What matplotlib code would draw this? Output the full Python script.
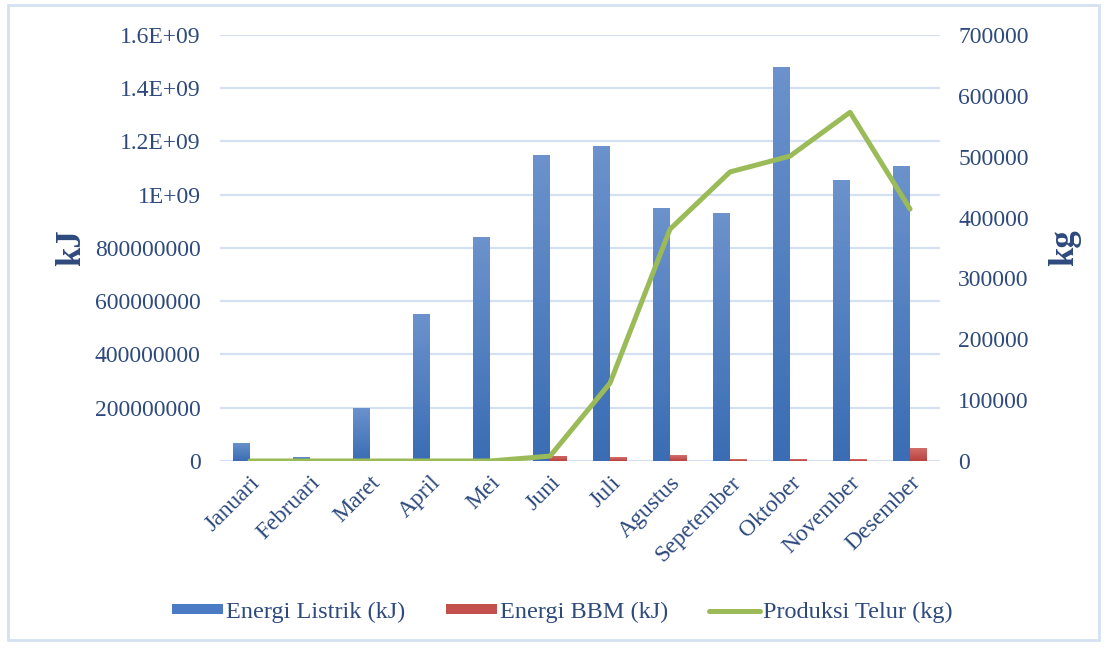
import numpy as np
import matplotlib.pyplot as plt
from matplotlib.patches import Rectangle, Patch
from matplotlib.lines import Line2D
from matplotlib.colors import LinearSegmentedColormap

bulan = ['Januari', 'Februari', 'Maret', 'April', 'Mei', 'Juni', 'Juli',
         'Agustus', 'Sepetember', 'Oktober', 'November', 'Desember']
listrik = [6.8e7, 1.6e7, 2.0e8, 5.52e8, 8.41e8, 1.149e9, 1.183e9,
           9.5e8, 9.31e8, 1.48e9, 1.055e9, 1.108e9]
bbm = [0, 0, 0, 0, 0, 1.9e7, 1.5e7, 2.2e7, 7e6, 7e6, 7e6, 4.9e7]
telur = [0, 0, 0, 0, 0, 8000, 128000, 381000, 475000, 501000, 573000, 414000]

kiri_ticks = [0, 2e8, 4e8, 6e8, 8e8, 1e9, 1.2e9, 1.4e9, 1.6e9]
kiri_label = ['0', '200000000', '400000000', '600000000', '800000000',
              '1E+09', '1.2E+09', '1.4E+09', '1.6E+09']
kanan_ticks = [0, 100000, 200000, 300000, 400000, 500000, 600000, 700000]

teks = '#2E4A7D'
fs = 17
plt.rcParams['font.family'] = ['Liberation Serif', 'DejaVu Serif']

fig = plt.figure(figsize=(11.07, 6.48), dpi=100)
ax = fig.add_axes([0.1987, 0.2886, 0.6505, 0.6574])
ax2 = ax.twinx()

x = np.arange(len(bulan))
w = 0.28
biru = LinearSegmentedColormap.from_list('biru', ['#3A6DB4', '#6B92CC'])
merah = LinearSegmentedColormap.from_list('merah', ['#B8423F', '#D4706C'])
grad = np.linspace(0, 1, 64).reshape(-1, 1)

b1 = ax.bar(x - w / 2, listrik, w, color='none', zorder=2)
b2 = ax.bar(x + w / 2, bbm, w, color='none', zorder=2)
for bars, cm in ((b1, biru), (b2, merah)):
    for p in bars:
        if p.get_height() <= 0:
            continue
        x0, y0 = p.get_x(), p.get_y()
        im = ax.imshow(grad, cmap=cm, origin='lower', aspect='auto',
                       extent=[x0, x0 + p.get_width(), y0, y0 + p.get_height()],
                       zorder=2)
        im.set_clip_path(p)

ax.set_xlim(-0.5, len(bulan) - 0.5)
ax.set_ylim(0, 1.6e9)
ax.set_yticks(kiri_ticks)
ax.set_yticklabels(kiri_label)
ax.grid(axis='y', color='#D5E1F2', lw=1.6, zorder=0)
ax.set_axisbelow(True)
ax.set_xticks(x)
ax.set_xticklabels(bulan, rotation=45, ha='right', rotation_mode='anchor')

ax2.plot(x, telur, color='#9BBB59', lw=3.6, solid_capstyle='round', zorder=3)
ax2.set_ylim(0, 700000)
ax2.set_yticks(kanan_ticks)

for a in (ax, ax2):
    for s in a.spines.values():
        s.set_visible(False)
    a.tick_params(length=0, labelsize=fs, labelcolor=teks)
ax.tick_params(axis='y', pad=14)
ax.tick_params(axis='x', pad=8)
ax2.tick_params(axis='y', pad=13)

ax.set_ylabel('kJ', fontsize=25, fontweight='bold', color=teks, labelpad=5)
ax2.set_ylabel('kg', fontsize=25, fontweight='bold', color=teks, labelpad=14)

handles = [Patch(facecolor='#4A7BC4'), Patch(facecolor='#C4504D'),
           Line2D([], [], color='#9BBB59', lw=3.6, solid_capstyle='round')]
fig.legend(handles, ['Energi Listrik (kJ)', 'Energi BBM (kJ)', 'Produksi Telur (kg)'],
           loc='center', bbox_to_anchor=(0.508, 0.055), ncol=3, frameon=False,
           fontsize=17.5, labelcolor=teks, handlelength=2.1, handleheight=0.28,
           handletextpad=0.15, columnspacing=1.65)

fig.patches.append(Rectangle((0.007, 0.012), 0.986, 0.98, transform=fig.transFigure,
                             fill=False, edgecolor='#D5E1F2', lw=2))

fig.savefig('out.png', dpi=100)
